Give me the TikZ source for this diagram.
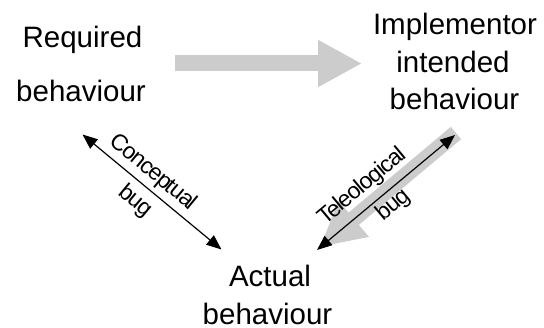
\documentclass[tikz,border=0pt]{standalone}
\usepackage{fontspec}
\setmainfont{Liberation Sans}
\newfontfamily\tightsans{Liberation Sans}[LetterSpace=-5]
\usetikzlibrary{arrows.meta}
\definecolor{bandgray}{RGB}{204,204,204}
\tikzset{
  caption/.style={font=\fontsize{29.5}{34}\selectfont, anchor=base, inner sep=0pt},
  buglabel/.style={font=\tightsans\fontsize{23}{26}\selectfont, inner xsep=0pt, sloped},
  upper/.style={buglabel, anchor=south, inner ysep=#1},
  lower/.style={buglabel, anchor=north, inner ysep=#1},
  flowarrow/.style={draw=bandgray, line width=16pt, -{Triangle[length=44pt,width=44pt]}},
  bugarrow/.style={draw=black, line width=1.2pt,
    {Triangle[length=15pt,width=12pt]}-{Triangle[length=15pt,width=12pt]}},
}
\begin{document}
\begin{tikzpicture}[x=1pt,y=-1pt]
\useasboundingbox (0,0) rectangle (544,328);

% the three behaviours
\node[caption] (req1) at (82.5,48) {Required};
\node[caption] (req2) at (81,102) {behaviour};
\node[caption] (imp1) at (455,35) {Implementor};
\node[caption] (imp2) at (453,73) {intended};
\node[caption] (imp3) at (454.5,110) {behaviour};
\node[caption] (act1) at (270,287) {Actual};
\node[caption] (act2) at (267.5,325) {behaviour};

% connector end points
\coordinate (reqOut) at (175,63.5);
\coordinate (impIn) at (362,63.5);
\coordinate (impDown) at (456,133);
\coordinate (actUp) at (320,247);
\coordinate (cA) at (82.5,134.5);
\coordinate (cB) at (221.5,249.5);
\coordinate (tA) at (317,250);
\coordinate (tB) at (455,135);

% wide grey flow arrows
\draw[flowarrow] (reqOut) -- (impIn);
\draw[flowarrow] (impDown) -- (actUp);

% bug arrows with their labels
\draw[bugarrow] (cA) --
  node[upper=4.2pt, pos=0.435] (cLab1) {Conceptual}
  node[lower=6.7pt, pos=0.461] (cLab2) {bug} (cB);
\draw[bugarrow] (tA) --
  node[upper=8.1pt, pos=0.42] (tLab1) {Teleological}
  node[lower=3.3pt, pos=0.486] (tLab2) {bug} (tB);
\end{tikzpicture}
\end{document}
